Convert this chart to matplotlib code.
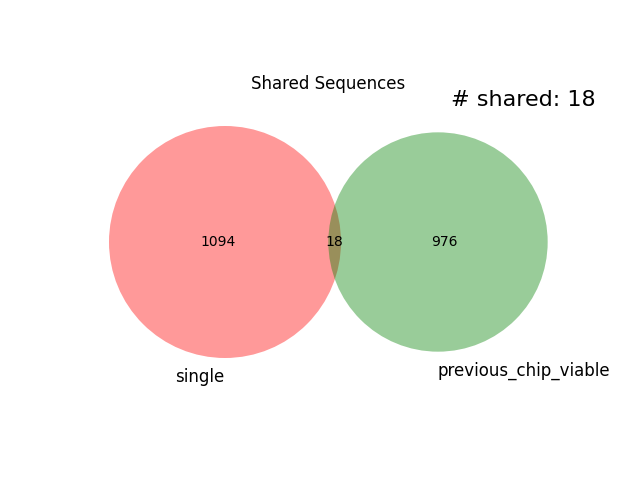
import numpy as np
import matplotlib
matplotlib.use("Agg")
import matplotlib.pyplot as plt
from matplotlib.patches import Circle

# данные
set_labels = ["single", "previous_chip_viable"]
only_counts = [1094, 976]
shared = 18

fig = plt.figure(figsize=(6.4, 4.8), dpi=100)
ax = fig.add_axes([0, 0, 1, 1])
ax.set_xlim(0, 640)
ax.set_ylim(480, 0)
ax.set_aspect("equal")
ax.axis("off")

# радиусы пропорциональны корню из размера множества
sizes = np.array([only_counts[0] + shared, only_counts[1] + shared])
radii = 116 * np.sqrt(sizes / sizes[0])
centers = [(225, 242), (438, 242)]
colors = ["red", "green"]

for c, r, col in zip(centers, radii, colors):
    ax.add_patch(Circle(c, r, facecolor=col, alpha=0.4, edgecolor="none"))

ax.text(218, 242, str(only_counts[0]), ha="center", va="center", fontsize=10)
ax.text(444, 242, str(only_counts[1]), ha="center", va="center", fontsize=10)
ax.text(334, 242, str(shared), ha="center", va="center", fontsize=10)

ax.text(200, 377, set_labels[0], ha="center", va="center", fontsize=12)
ax.text(524, 371, set_labels[1], ha="center", va="center", fontsize=12)

ax.text(328, 84, "Shared Sequences", ha="center", va="center", fontsize=12)
ax.text(523, 100, f"# shared: {shared}", ha="center", va="center", fontsize=16)

fig.savefig("out.png")
